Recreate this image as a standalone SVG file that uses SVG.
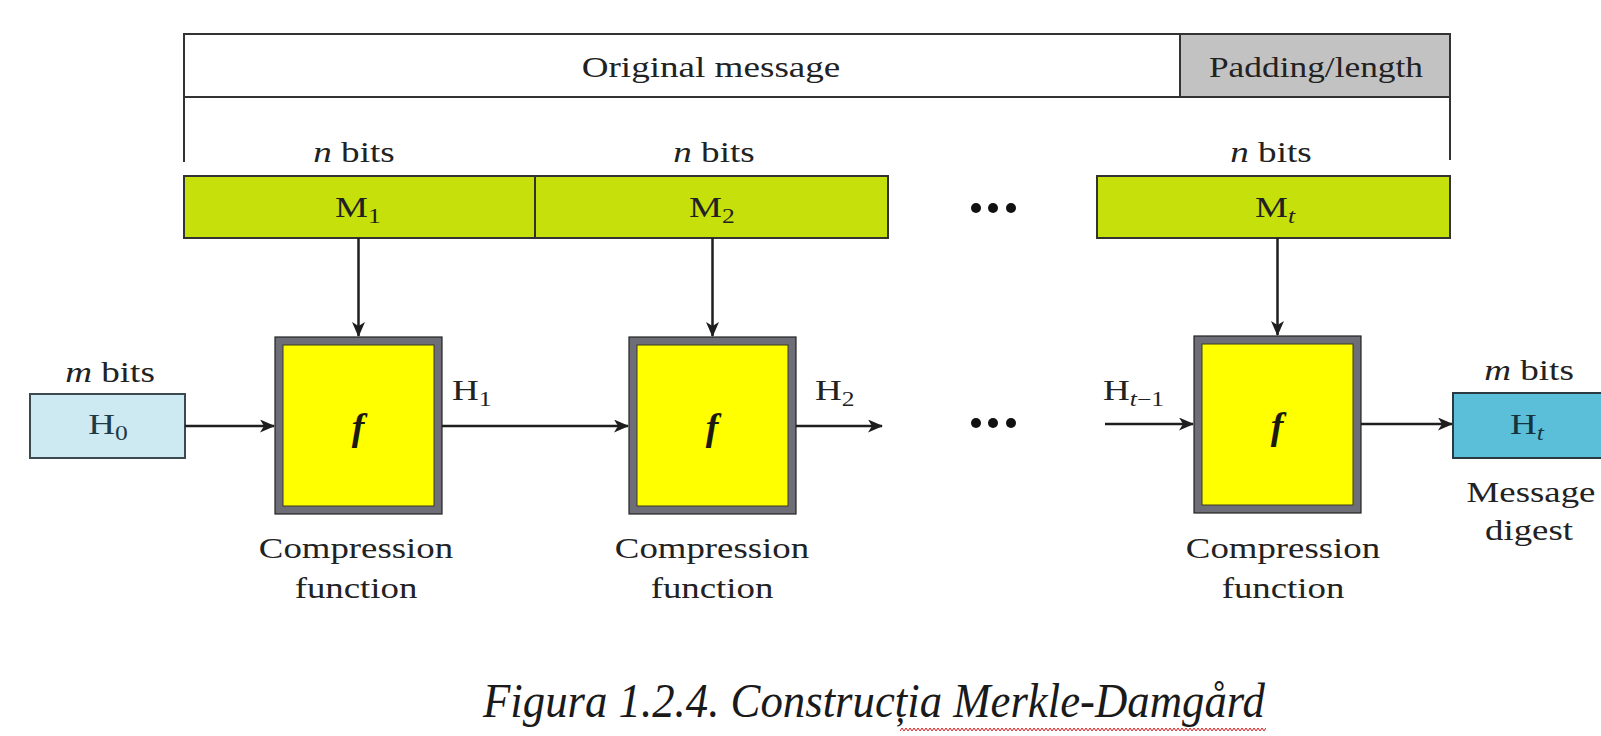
<svg xmlns="http://www.w3.org/2000/svg" width="1601" height="736" viewBox="0 0 1601 736">
  <defs>
    <style>
      .lbl { font-family: "Liberation Serif", "Times New Roman", serif; font-size: 29px; fill: #222; }
      .cap { font-family: "Liberation Serif", "Times New Roman", serif; font-size: 48px; font-style: italic; fill: #1a1a1a; }
      .it { font-style: italic; }
      .sub { font-size: 20px; }
      .fn { font-family: "Liberation Serif", "Times New Roman", serif; font-size: 38px; font-style: italic; font-weight: bold; fill: #1a1a10; }
      .seg { stroke: #333; stroke-width: 2; }
      .cf-out { fill: #6e6e78; stroke: #222; stroke-width: 1.2; }
      .cf-in { fill: #ffff00; stroke: #3a3a20; stroke-width: 1; }
      .conn { stroke: #1e1e1e; stroke-width: 2.5; fill: none; marker-end: url(#ah); }
      .dot { fill: #111; }
    </style>
    <marker id="ah" markerUnits="userSpaceOnUse" markerWidth="15" markerHeight="13" refX="14" refY="6.5" orient="auto">
      <path d="M0,0 L15,6.5 L0,13 L4,6.5 z" fill="#1e1e1e"/>
    </marker>
    <pattern id="squig" patternUnits="userSpaceOnUse" x="900" y="727" width="4" height="5">
      <path d="M0,4 L2,1 L4,4" fill="none" stroke="#d02020" stroke-width="1"/>
    </pattern>
  </defs>

  <rect x="0" y="0" width="1601" height="736" fill="#ffffff"/>

  <!-- Message bar -->
  <g id="message-bar">
    <rect x="184" y="34" width="996" height="63" fill="#ffffff" class="seg"/>
    <rect x="1180" y="34" width="270" height="63" fill="#c2c2c2" class="seg"/>
    <line x1="184" y1="97" x2="184" y2="162" class="seg"/>
    <line x1="1450" y1="97" x2="1450" y2="160" class="seg"/>
    <text class="lbl" text-anchor="middle" transform="translate(711,77) scale(1.28,1)">Original message</text>
    <text class="lbl" text-anchor="middle" transform="translate(1316,77) scale(1.22,1)">Padding/length</text>
  </g>

  <!-- Message blocks -->
  <g id="block-M1">
    <rect x="184" y="176" width="351" height="62" fill="#c6e00c" class="seg"/>
    <text class="lbl" text-anchor="middle" transform="translate(354,162) scale(1.28,1)"><tspan class="it">n</tspan> bits</text>
    <text class="lbl" text-anchor="middle" transform="translate(358,217) scale(1.28,1)">M<tspan class="sub" dy="6">1</tspan></text>
  </g>
  <g id="block-M2">
    <rect x="535" y="176" width="353" height="62" fill="#c6e00c" class="seg"/>
    <text class="lbl" text-anchor="middle" transform="translate(714,162) scale(1.28,1)"><tspan class="it">n</tspan> bits</text>
    <text class="lbl" text-anchor="middle" transform="translate(712,217) scale(1.28,1)">M<tspan class="sub" dy="6">2</tspan></text>
  </g>
  <g id="block-Mt">
    <rect x="1097" y="176" width="353" height="62" fill="#c6e00c" class="seg"/>
    <text class="lbl" text-anchor="middle" transform="translate(1271,162) scale(1.28,1)"><tspan class="it">n</tspan> bits</text>
    <text class="lbl" text-anchor="middle" transform="translate(1275,217) scale(1.28,1)">M<tspan class="sub it" dy="6">t</tspan></text>
  </g>

  <g id="ellipsis-top">
    <circle class="dot" cx="976" cy="208" r="5"/>
    <circle class="dot" cx="993" cy="208" r="5"/>
    <circle class="dot" cx="1011" cy="208" r="5"/>
  </g>
  <g id="ellipsis-mid">
    <circle class="dot" cx="976" cy="423" r="5"/>
    <circle class="dot" cx="993" cy="423" r="5"/>
    <circle class="dot" cx="1011" cy="423" r="5"/>
  </g>

  <!-- Initial value -->
  <g id="H0">
    <rect x="30" y="394" width="155" height="64" fill="#cde9f2" stroke="#3a4a50" stroke-width="2"/>
    <text class="lbl" text-anchor="middle" transform="translate(110,382) scale(1.28,1)"><tspan class="it">m</tspan> bits</text>
    <text class="lbl" text-anchor="middle" transform="translate(108,434) scale(1.28,1)" style="fill:#1f3a44">H<tspan class="sub" dy="6">0</tspan></text>
  </g>

  <!-- Compression functions -->
  <g id="cf1">
    <rect class="cf-out" x="275" y="337" width="167" height="177"/>
    <rect class="cf-in" x="283" y="345" width="151" height="161"/>
    <text class="fn" text-anchor="middle" x="358" y="440">f</text>
    <text class="lbl" text-anchor="middle" transform="translate(356,558) scale(1.27,1)">Compression</text>
    <text class="lbl" text-anchor="middle" transform="translate(356,598) scale(1.27,1)">function</text>
  </g>
  <g id="cf2">
    <rect class="cf-out" x="629" y="337" width="167" height="177"/>
    <rect class="cf-in" x="637" y="345" width="151" height="161"/>
    <text class="fn" text-anchor="middle" x="712" y="440">f</text>
    <text class="lbl" text-anchor="middle" transform="translate(712,558) scale(1.27,1)">Compression</text>
    <text class="lbl" text-anchor="middle" transform="translate(712,598) scale(1.27,1)">function</text>
  </g>
  <g id="cf3">
    <rect class="cf-out" x="1194" y="336" width="167" height="177"/>
    <rect class="cf-in" x="1202" y="344" width="151" height="161"/>
    <text class="fn" text-anchor="middle" x="1277" y="439">f</text>
    <text class="lbl" text-anchor="middle" transform="translate(1283,558) scale(1.27,1)">Compression</text>
    <text class="lbl" text-anchor="middle" transform="translate(1283,598) scale(1.27,1)">function</text>
  </g>

  <!-- Output digest -->
  <g id="Ht">
    <rect x="1453" y="393" width="160" height="65" fill="#5bbfd9" stroke="#2a3a40" stroke-width="2"/>
    <text class="lbl" text-anchor="middle" transform="translate(1529,380) scale(1.28,1)"><tspan class="it">m</tspan> bits</text>
    <text class="lbl" text-anchor="middle" transform="translate(1527,434) scale(1.28,1)" style="fill:#16343e">H<tspan class="sub it" dy="6">t</tspan></text>
    <text class="lbl" text-anchor="middle" transform="translate(1531,502) scale(1.27,1)">Message</text>
    <text class="lbl" text-anchor="middle" transform="translate(1529,540) scale(1.27,1)">digest</text>
  </g>

  <!-- Connectors -->
  <g id="connectors">
    <line class="conn" x1="358.5" y1="238" x2="358.5" y2="336"/>
    <line class="conn" x1="712.5" y1="238" x2="712.5" y2="336"/>
    <line class="conn" x1="1277.5" y1="238" x2="1277.5" y2="335"/>
    <line class="conn" x1="185" y1="426" x2="274" y2="426"/>
    <line class="conn" x1="442" y1="426" x2="628" y2="426"/>
    <line class="conn" x1="796" y1="426" x2="882" y2="426"/>
    <line class="conn" x1="1105" y1="424" x2="1193" y2="424"/>
    <line class="conn" x1="1361" y1="424" x2="1452" y2="424"/>
    <text class="lbl" transform="translate(452,400) scale(1.28,1)">H<tspan class="sub" dy="6">1</tspan></text>
    <text class="lbl" transform="translate(815,400) scale(1.28,1)">H<tspan class="sub" dy="6">2</tspan></text>
    <text class="lbl" transform="translate(1103,400) scale(1.28,1)">H<tspan class="sub" dy="6"><tspan class="it">t</tspan>−1</tspan></text>
  </g>

  <!-- Caption -->
  <g id="caption">
    <text class="cap" x="483" y="717" textLength="782" lengthAdjust="spacingAndGlyphs">Figura 1.2.4. Construcția Merkle-Damgård</text>
    <rect x="900" y="727" width="366" height="5" fill="url(#squig)"/>
  </g>
</svg>
